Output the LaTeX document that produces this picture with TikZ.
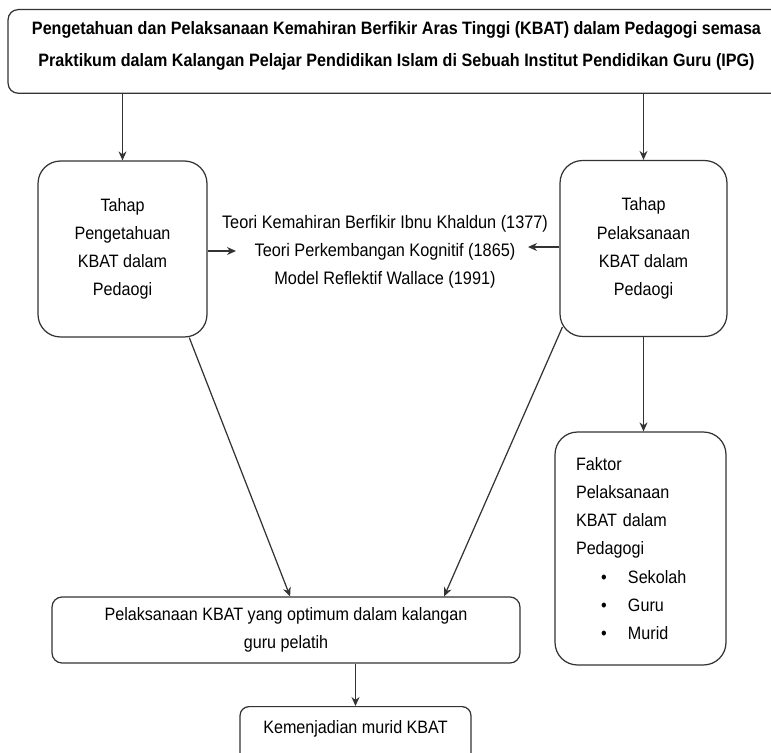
\documentclass[tikz,border=0pt]{standalone}
\usepackage{fontspec}
\setmainfont{Liberation Sans}[FakeStretch=0.9]
\usetikzlibrary{arrows.meta}

\newcommand{\butir}[1]{\hspace*{0.5cm}\makebox[0.54cm][l]{\textbullet}#1}

\begin{document}
\begin{tikzpicture}[x=0.02cm, y=-0.02cm,
    kotak/.style={draw=black!80, line width=0.7pt, rounded corners=0.45cm, align=center, font=\fontsize{10.2}{16}\selectfont},
    panah/.style={draw=black!80, line width=0.7pt, -{Stealth[length=1.8mm, width=1.6mm]}}]
      \useasboundingbox (0,0) rectangle (771,753);
      \clip (0,0) rectangle (771,753);

      \node[kotak, rounded corners=0.2cm, anchor=north, minimum width=15.54cm, inner ysep=0.24cm, text depth=0.3cm, font=\bfseries\fontsize{10.2}{18}\selectfont] (judul) at (396.5,9) {Pengetahuan dan Pelaksanaan Kemahiran Berfikir Aras Tinggi (KBAT) dalam Pedagogi semasa\\Praktikum dalam Kalangan Pelajar Pendidikan Islam di Sebuah Institut Pendidikan Guru (IPG)};

      \node[kotak, minimum width=3.38cm, minimum height=3.52cm] (kiri) at (122.5,249) {Tahap\\Pengetahuan\\KBAT dalam\\Pedaogi};
      \node[kotak, minimum width=3.34cm, minimum height=3.52cm] (kanan) at (643.5,248.5) {Tahap\\Pelaksanaan\\KBAT dalam\\Pedaogi};

      \node[align=center, font=\fontsize{10.3}{16}\selectfont] (teori) at (385,252) {Teori Kemahiran Berfikir Ibnu Khaldun (1377)\\Teori Perkembangan Kognitif (1865)\\Model Reflektif Wallace (1991)};
      \coordinate (hujungkiri) at (236,251);
      \coordinate (hujungkanan) at (528,247);

      \node[kotak, align=left, text width=2.58cm, inner xsep=0.42cm, minimum height=4.66cm] (faktor) at (640.5,548.5) {Faktor\\Pelaksanaan\\KBAT dalam\\Pedagogi\\\butir{Sekolah}\\\butir{Guru}\\\butir{Murid}};

      \node[kotak, rounded corners=0.2cm, minimum width=9.36cm, minimum height=1.32cm] (bawah) at (286,630) {Pelaksanaan KBAT yang optimum dalam kalangan\\guru pelatih};
      \node[kotak, rounded corners=0.18cm, anchor=north, minimum width=4.62cm, inner ysep=0.28cm, text depth=1cm] (kemenjadian) at (355.5,706) {Kemenjadian murid KBAT};

      \draw[panah] (judul.south -| kiri.north) -- (kiri.north);
      \draw[panah] (judul.south -| kanan.north) -- (kanan.north);
      \draw[panah] (kiri.east |- hujungkiri) -- (hujungkiri);
      \draw[panah] (kanan.west |- hujungkanan) -- (hujungkanan);
      \draw[panah] (kiri.-53) -- (bawah.83);
      \draw[panah] ([shift={(3,-10)}]kanan.south west) -- (bawah.12.5);
      \draw[panah] (kanan.south) -- (kanan.south |- faktor.north);
      \draw[panah] (kemenjadian.north |- bawah.south) -- (kemenjadian.north);
    \end{tikzpicture}
\end{document}
